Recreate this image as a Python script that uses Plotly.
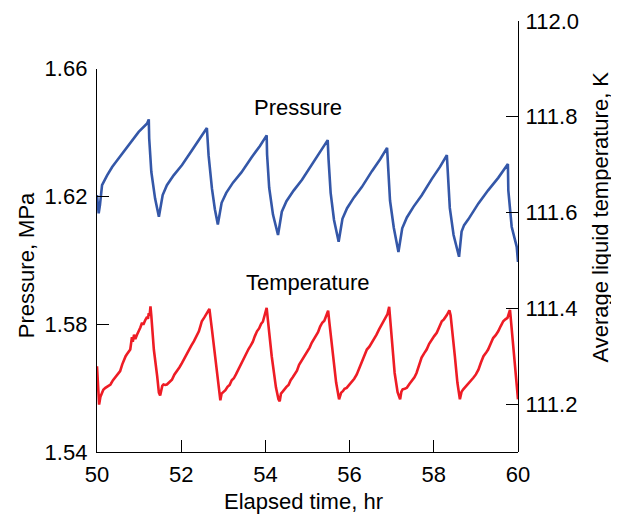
import plotly.graph_objects as go

# ---- data ----
p_time = [50.00, 50.04, 50.07, 50.12, 50.24, 50.36, 50.48, 50.63, 50.83, 50.99, 51.19, 51.23,
          51.24, 51.29, 51.38, 51.47,
          51.56, 51.66, 51.82, 52.02, 52.26, 52.45, 52.61,
          52.65, 52.73, 52.80, 52.87,
          52.96, 53.07, 53.23, 53.43, 53.67, 53.87, 54.03,
          54.04, 54.09, 54.18, 54.30,
          54.39, 54.50, 54.67, 54.87, 55.11, 55.31, 55.48,
          55.50, 55.55, 55.63, 55.74,
          55.83, 55.94, 56.10, 56.29, 56.53, 56.73, 56.89,
          56.91, 56.96, 57.05, 57.16,
          57.25, 57.36, 57.52, 57.71, 57.95, 58.15, 58.31,
          58.33, 58.38, 58.47, 58.60,
          58.66, 58.72, 58.82, 59.06, 59.29, 59.53, 59.76,
          59.77, 59.85, 59.97, 60.00]
pressure = [1.6204, 1.6147, 1.6173, 1.6235, 1.6266, 1.6292, 1.6313, 1.6339, 1.6376, 1.6402, 1.6428, 1.6441,
            1.6381, 1.6277, 1.6193, 1.6136,
            1.6204, 1.6235, 1.6266, 1.6298, 1.6345, 1.6381, 1.6414,
            1.6329, 1.6225, 1.6160, 1.6112,
            1.6180, 1.6211, 1.6243, 1.6275, 1.6322, 1.6358, 1.6391,
            1.6331, 1.6227, 1.6143, 1.6079,
            1.6152, 1.6185, 1.6218, 1.6252, 1.6302, 1.6341, 1.6376,
            1.6316, 1.6211, 1.6126, 1.6058,
            1.6130, 1.6163, 1.6196, 1.6229, 1.6279, 1.6317, 1.6352,
            1.6292, 1.6187, 1.6102, 1.6026,
            1.6100, 1.6134, 1.6168, 1.6203, 1.6254, 1.6293, 1.6329,
            1.6269, 1.6164, 1.6079, 1.6011,
            1.6090, 1.6110, 1.6128, 1.6178, 1.6219, 1.6258, 1.6301,
            1.6219, 1.6105, 1.6042, 1.5995]

t_time = [50.00, 50.02, 50.05, 50.08, 50.12, 50.15, 50.20, 50.26, 50.32, 50.38, 50.43, 50.50, 50.55,
          50.60, 50.63, 50.68, 50.71, 50.76, 50.79, 50.83, 50.85, 50.88, 50.91, 50.95, 50.99, 51.03,
          51.07, 51.10, 51.15, 51.19, 51.21, 51.23, 51.25, 51.27, 51.29, 51.35, 51.43, 51.47, 51.50,
          51.52, 51.55, 51.58, 51.62, 51.66, 51.72, 51.78, 51.84, 51.90, 51.96, 52.02, 52.10, 52.18,
          52.24, 52.30, 52.36, 52.42, 52.46, 52.49, 52.55, 52.61, 52.67, 52.73, 52.80, 52.85, 52.90,
          52.93,
          52.96, 53.00, 53.05, 53.10, 53.15, 53.20, 53.25, 53.30, 53.35, 53.40, 53.45, 53.50, 53.55,
          53.60, 53.65, 53.70, 53.75, 53.80, 53.85, 53.90, 53.94, 53.97, 54.03, 54.06, 54.15, 54.25,
          54.31, 54.34,
          54.37, 54.41, 54.46, 54.50, 54.55, 54.60, 54.65, 54.70, 54.75, 54.80, 54.85, 54.90, 54.95,
          55.00, 55.05, 55.10, 55.15, 55.20, 55.25, 55.30, 55.35, 55.40, 55.44, 55.49, 55.52, 55.60,
          55.68, 55.75,
          55.80, 55.84, 55.88, 55.93, 55.99, 56.05, 56.11, 56.17, 56.23, 56.29, 56.35, 56.41, 56.47,
          56.53, 56.58, 56.64, 56.70, 56.76, 56.81, 56.86, 56.90, 56.94, 56.97, 57.07, 57.14, 57.20,
          57.23, 57.26, 57.31, 57.36, 57.42, 57.48, 57.54, 57.59, 57.65, 57.71, 57.77, 57.83, 57.89,
          57.95, 58.01, 58.07, 58.13, 58.19, 58.24, 58.27, 58.31, 58.37, 58.40, 58.50, 58.56, 58.62,
          58.66, 58.70, 58.76, 58.82, 58.88, 58.94, 59.00, 59.06, 59.12, 59.18, 59.24, 59.29, 59.35,
          59.41, 59.47, 59.53, 59.59, 59.65, 59.70, 59.75, 59.81, 59.84, 59.92, 60.00]
temperature = [111.279, 111.240, 111.199, 111.215, 111.222, 111.230, 111.234, 111.238, 111.241, 111.250,
               111.255, 111.262, 111.269, 111.283, 111.290, 111.300, 111.304, 111.312, 111.314, 111.340,
               111.330, 111.345, 111.336, 111.345, 111.352, 111.360, 111.370, 111.366, 111.376, 111.382,
               111.378, 111.390, 111.385, 111.404, 111.385, 111.314, 111.258, 111.224, 111.218, 111.226,
               111.238, 111.241, 111.240, 111.241, 111.247, 111.251, 111.262, 111.269, 111.277, 111.286,
               111.300, 111.314, 111.322, 111.331, 111.342, 111.352, 111.364, 111.373, 111.381, 111.390,
               111.399, 111.356, 111.300, 111.265, 111.225, 111.208,
               111.222, 111.225, 111.229, 111.236, 111.240, 111.250, 111.254, 111.262, 111.271, 111.281,
               111.287, 111.298, 111.305, 111.315, 111.322, 111.330, 111.342, 111.352, 111.358, 111.368,
               111.372, 111.382, 111.401, 111.375, 111.300, 111.235, 111.210, 111.206,
               111.222, 111.226, 111.233, 111.236, 111.240, 111.250, 111.256, 111.262, 111.270, 111.282,
               111.289, 111.297, 111.305, 111.310, 111.318, 111.328, 111.335, 111.342, 111.350, 111.362,
               111.370, 111.374, 111.382, 111.395, 111.370, 111.300, 111.245, 111.210,
               111.224, 111.227, 111.232, 111.234, 111.240, 111.245, 111.253, 111.262, 111.276, 111.290,
               111.302, 111.314, 111.320, 111.328, 111.336, 111.345, 111.356, 111.366, 111.372, 111.380,
               111.388, 111.403, 111.370, 111.265, 111.225, 111.210,
               111.226, 111.231, 111.232, 111.234, 111.242, 111.248, 111.256, 111.265, 111.282, 111.297,
               111.306, 111.314, 111.326, 111.335, 111.342, 111.349, 111.362, 111.373, 111.377, 111.380,
               111.386, 111.396, 111.385, 111.300, 111.245, 111.210,
               111.226, 111.231, 111.237, 111.241, 111.248, 111.255, 111.262, 111.272, 111.287, 111.300,
               111.307, 111.314, 111.326, 111.338, 111.344, 111.352, 111.363, 111.373, 111.377, 111.380,
               111.397, 111.370, 111.286, 111.210]

x_ticks = [50, 52, 54, 56, 58, 60]
p_ticks = [1.54, 1.58, 1.62, 1.66]
t_ticks = [111.2, 111.4, 111.6, 111.8, 112.0]

FONT = "Liberation Sans, Arial, Helvetica, sans-serif"
BLUE = "#3457a8"
RED = "#ee1c25"
FS = 22

fig = go.Figure()
fig.add_trace(go.Scatter(x=p_time, y=pressure, mode="lines", xaxis="x", yaxis="y",
                         line=dict(color=BLUE, width=2.6), name="Pressure"))
fig.add_trace(go.Scatter(x=t_time, y=temperature, mode="lines", xaxis="x", yaxis="y2",
                         line=dict(color=RED, width=2.6), name="Temperature"))

axis_common = dict(showgrid=False, zeroline=False, showline=True, linecolor="black", linewidth=1.4,
                   ticks="inside", ticklen=12, tickwidth=1.4, tickcolor="black", automargin=False,
                   tickfont=dict(size=FS, color="black", family=FONT))

# page body has an 8px default margin, so the figure is 8px smaller and margins shifted
fig.update_layout(
    template="none",
    width=611, height=506,
    margin=dict(l=89, r=101, t=13, b=62, autoexpand=False),
    paper_bgcolor="white", plot_bgcolor="rgba(0,0,0,0)",
    showlegend=False,
    font=dict(family=FONT, color="black", size=FS),
    xaxis=dict(range=[50, 60], domain=[0, 1], anchor="y", tickvals=x_ticks,
               ticklabelstandoff=2, **axis_common),
    yaxis=dict(range=[1.54, 1.66], domain=[0, 0.8896], anchor="x", side="left",
               tickvals=p_ticks, tickformat=".2f", ticklabelstandoff=4, **axis_common),
    yaxis2=dict(range=[111.1, 112.0], domain=[0, 1], anchor="x", side="right",
                tickvals=t_ticks, tickformat=".1f", ticklabelstandoff=2, **axis_common),
    annotations=[
        dict(text="Pressure", x=0.477, y=0.800, xref="paper", yref="paper", showarrow=False,
             xanchor="center", yanchor="middle", font=dict(size=FS)),
        dict(text="Temperature", x=0.5, y=0.394, xref="paper", yref="paper", showarrow=False,
             xanchor="center", yanchor="middle", font=dict(size=FS)),
        dict(text="Elapsed time, hr", x=0.490, y=-0.116, xref="paper", yref="paper", showarrow=False,
             xanchor="center", yanchor="middle", font=dict(size=FS)),
        dict(text="Pressure, MPa", x=-0.1686, y=0.4336, xref="paper", yref="paper", showarrow=False,
             xanchor="center", yanchor="middle", textangle=-90, font=dict(size=FS)),
        dict(text="Average liquid temperature, K", x=1.197, y=0.546, xref="paper", yref="paper",
             showarrow=False, xanchor="center", yanchor="middle", textangle=-90, font=dict(size=FS)),
    ],
)

fig.write_html("out.html")
